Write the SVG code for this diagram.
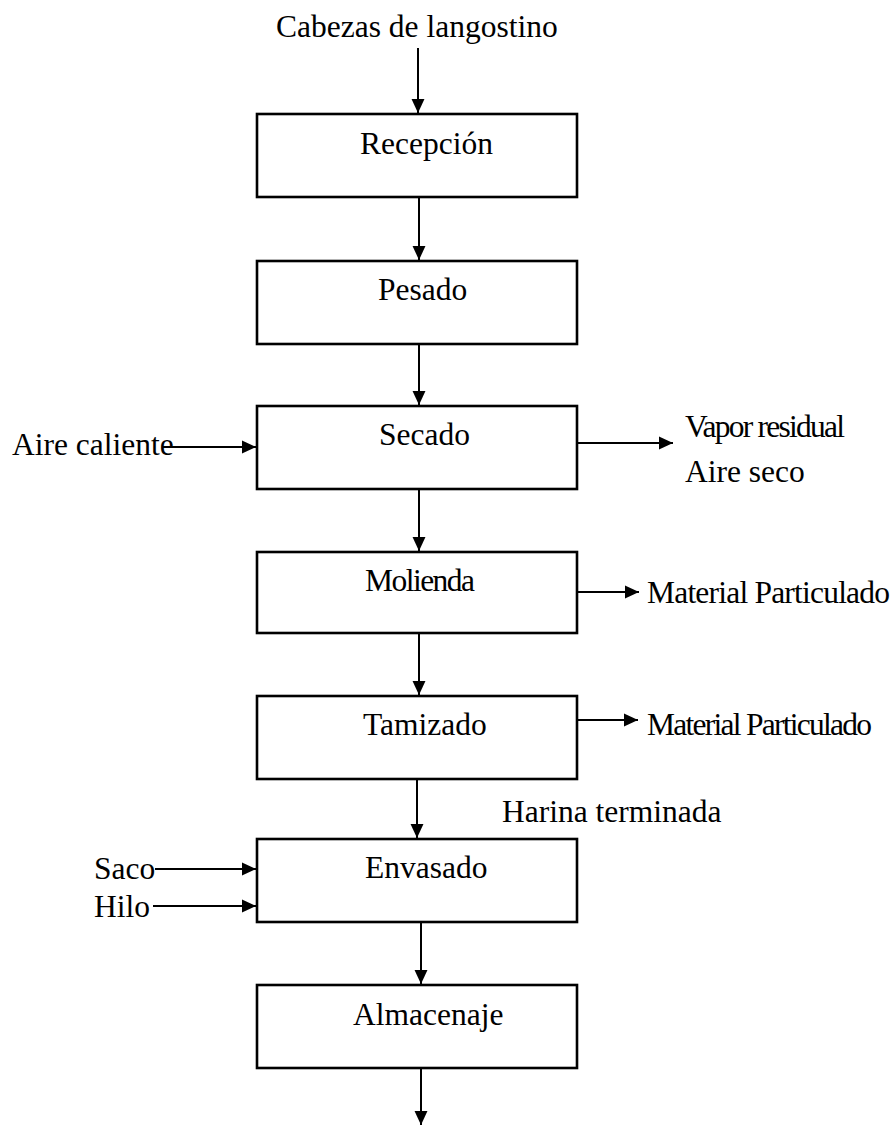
<svg xmlns="http://www.w3.org/2000/svg" width="896" height="1126" viewBox="0 0 896 1126">
  <style>
    .box { fill: #fff; stroke: #000; stroke-width: 2.6; }
    .lbl { font-family: "Liberation Serif", "Times New Roman", serif; font-size: 31.5px; fill: #000; }
    .flow { stroke: #000; stroke-width: 2; fill: none; marker-end: url(#head); }
  </style>
  <defs>
    <marker id="head" markerUnits="userSpaceOnUse" markerWidth="14" markerHeight="14" viewBox="0 0 13 12" refX="13" refY="6" orient="auto">
      <path d="M0,0 L13,6 L0,12 Z" fill="#000"/>
    </marker>
  </defs>

  <rect width="896" height="1126" fill="#fff"/>

  <!-- connectors -->
  <g id="connectors">
    <line class="flow" x1="418" y1="48" x2="418" y2="113"/>
    <line class="flow" x1="419" y1="197" x2="419" y2="260"/>
    <line class="flow" x1="419" y1="344" x2="419" y2="405"/>
    <line class="flow" x1="419" y1="489" x2="419" y2="551"/>
    <line class="flow" x1="419" y1="633" x2="419" y2="695"/>
    <line class="flow" x1="417" y1="779" x2="417" y2="838"/>
    <line class="flow" x1="421" y1="922" x2="421" y2="984"/>
    <line class="flow" x1="421" y1="1068" x2="421" y2="1125"/>
    <line class="flow" x1="163" y1="447" x2="256" y2="447"/>
    <line class="flow" x1="577" y1="443" x2="673" y2="443"/>
    <line class="flow" x1="577" y1="592" x2="639" y2="592"/>
    <line class="flow" x1="577" y1="720" x2="638" y2="720"/>
    <line class="flow" x1="155" y1="869" x2="256" y2="869"/>
    <line class="flow" x1="153" y1="906" x2="256" y2="906"/>
  </g>

  <!-- process steps -->
  <g id="recepcion">
    <rect class="box" x="257" y="114" width="320" height="83"/>
    <text class="lbl" x="360" y="154">Recepción</text>
  </g>
  <g id="pesado">
    <rect class="box" x="257" y="261" width="320" height="83"/>
    <text class="lbl" x="378" y="300">Pesado</text>
  </g>
  <g id="secado">
    <rect class="box" x="257" y="406" width="320" height="83"/>
    <text class="lbl" x="379" y="445">Secado</text>
  </g>
  <g id="molienda">
    <rect class="box" x="257" y="552" width="320" height="81"/>
    <text class="lbl" x="365" y="591" textLength="110" lengthAdjust="spacing">Molienda</text>
  </g>
  <g id="tamizado">
    <rect class="box" x="257" y="696" width="320" height="83"/>
    <text class="lbl" x="363" y="735">Tamizado</text>
  </g>
  <g id="envasado">
    <rect class="box" x="257" y="839" width="320" height="83"/>
    <text class="lbl" x="365" y="878">Envasado</text>
  </g>
  <g id="almacenaje">
    <rect class="box" x="257" y="985" width="320" height="83"/>
    <text class="lbl" x="353" y="1025">Almacenaje</text>
  </g>

  <!-- inputs and outputs -->
  <g id="entrada-cabezas">
    <text class="lbl" x="276" y="37">Cabezas de langostino</text>
  </g>
  <g id="entrada-aire">
    <text class="lbl" x="12" y="455">Aire caliente</text>
  </g>
  <g id="salida-secado">
    <text class="lbl" x="685" y="437" textLength="160" lengthAdjust="spacing">Vapor residual</text>
    <text class="lbl" x="685" y="482">Aire seco</text>
  </g>
  <g id="salida-molienda">
    <text class="lbl" x="647" y="603" textLength="243" lengthAdjust="spacing">Material Particulado</text>
  </g>
  <g id="salida-tamizado">
    <text class="lbl" x="647" y="735" textLength="225" lengthAdjust="spacing">Material Particulado</text>
  </g>
  <g id="producto">
    <text class="lbl" x="502" y="822">Harina terminada</text>
  </g>
  <g id="entrada-saco">
    <text class="lbl" x="94" y="879">Saco</text>
  </g>
  <g id="entrada-hilo">
    <text class="lbl" x="94" y="917">Hilo</text>
  </g>
</svg>
